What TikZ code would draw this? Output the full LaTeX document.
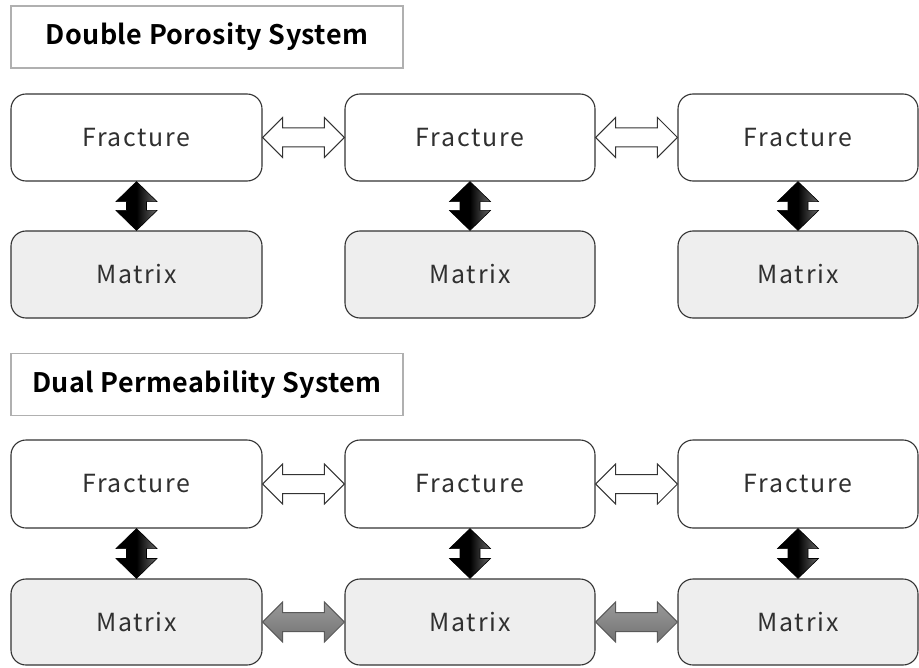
\documentclass[tikz,border=0pt]{standalone}
\usepackage{fontspec}
\setmainfont{Noto Sans CJK JP}[BoldFont={Noto Sans CJK JP Bold}]
\newfontfamily\boxfont{Noto Sans CJK JP}[LetterSpace=7]
\newfontfamily\titlefont{Noto Sans CJK JP Bold}[LetterSpace=1.5]
\usetikzlibrary{calc}
\definecolor{boxline}{HTML}{333333}
\definecolor{matfill}{HTML}{EEEEEE}
\definecolor{titleline}{HTML}{B0B0B0}
\definecolor{txt}{HTML}{303030}
\tikzset{
  base/.style={draw=boxline, line width=1.1bp, rounded corners=15bp, minimum height=87bp,
    font=\boxfont\fontsize{25}{29}\selectfont, text=txt, inner sep=0pt},
  frac/.style={base, fill=white},
  matr/.style={base, fill=matfill},
  titlebox/.style={draw=titleline, line width=1.2bp, minimum width=392bp, minimum height=62bp,
    font=\titlefont\fontsize{27}{32}\selectfont, inner sep=0pt},
  whitearr/.style={draw=boxline, line width=1bp, fill=white, line join=miter},
  grayarr/.style={draw=black!65, line width=1bp, top color=black!40, bottom color=black!55, line join=miter},
  blackarr/.style={draw=black, line width=0.6bp, left color=black, right color=black!60, middle color=black, line join=miter},
}
\newcommand\hdarrow[3]{%
  \path[#3] let \p1=(#1), \p2=(#2) in
    (\x1,\y1) -- (\x1+20bp,\y1+20bp) -- (\x1+20bp,\y1+9.5bp) -- (\x2-20bp,\y1+9.5bp) --
    (\x2-20bp,\y1+20bp) -- (\x2,\y1) -- (\x2-20bp,\y1-20bp) -- (\x2-20bp,\y1-9.5bp) --
    (\x1+20bp,\y1-9.5bp) -- (\x1+20bp,\y1-20bp) -- cycle;}
\newcommand\vdarrow[3]{%
  \path[#3] let \p1=(#1), \p2=(#2) in
    (\x1,\y1) -- (\x1+20.5bp,\y1-20bp) -- (\x1+10bp,\y1-20bp) -- (\x1+10bp,\y2+20bp) --
    (\x1+20.5bp,\y2+20bp) -- (\x1,\y2) -- (\x1-20.5bp,\y2+20bp) -- (\x1-10bp,\y2+20bp) --
    (\x1-10bp,\y1-20bp) -- (\x1-20.5bp,\y1-20bp) -- cycle;}
\begin{document}
\begin{tikzpicture}[x=1bp, y=-1bp]
\useasboundingbox (0,0) rectangle (919,668);
% titles
\node[titlebox] (t1) at (207,37) {Double Porosity System};
\node[titlebox] (t2) at (207,384.5) {Dual Permeability System};
% Double porosity
\node[frac, minimum width=251bp] (fa1) at (136.5,137.5) {Fracture};
\node[frac, minimum width=250bp] (fa2) at (470,137.5) {Fracture};
\node[frac, minimum width=240bp] (fa3) at (798,137.5) {Fracture};
\node[matr, minimum width=251bp] (ma1) at (136.5,274.5) {Matrix};
\node[matr, minimum width=250bp] (ma2) at (470,274.5) {Matrix};
\node[matr, minimum width=240bp] (ma3) at (798,274.5) {Matrix};
% Dual permeability
\node[frac, minimum width=251bp, minimum height=88bp] (fb1) at (136.5,484) {Fracture};
\node[frac, minimum width=250bp, minimum height=88bp] (fb2) at (470,484) {Fracture};
\node[frac, minimum width=240bp, minimum height=88bp] (fb3) at (798,484) {Fracture};
\node[matr, minimum width=251bp, minimum height=86bp] (mb1) at (136.5,622) {Matrix};
\node[matr, minimum width=250bp, minimum height=86bp] (mb2) at (470,622) {Matrix};
\node[matr, minimum width=240bp, minimum height=86bp] (mb3) at (798,622) {Matrix};
% arrows
\hdarrow{fa1.east}{fa2.west}{whitearr}
\hdarrow{fa2.east}{fa3.west}{whitearr}
\hdarrow{fb1.east}{fb2.west}{whitearr}
\hdarrow{fb2.east}{fb3.west}{whitearr}
\hdarrow{mb1.east}{mb2.west}{grayarr}
\hdarrow{mb2.east}{mb3.west}{grayarr}
\vdarrow{fa1.south}{ma1.north}{blackarr}
\vdarrow{fa2.south}{ma2.north}{blackarr}
\vdarrow{fa3.south}{ma3.north}{blackarr}
\vdarrow{fb1.south}{mb1.north}{blackarr}
\vdarrow{fb2.south}{mb2.north}{blackarr}
\vdarrow{fb3.south}{mb3.north}{blackarr}
\end{tikzpicture}
\end{document}
